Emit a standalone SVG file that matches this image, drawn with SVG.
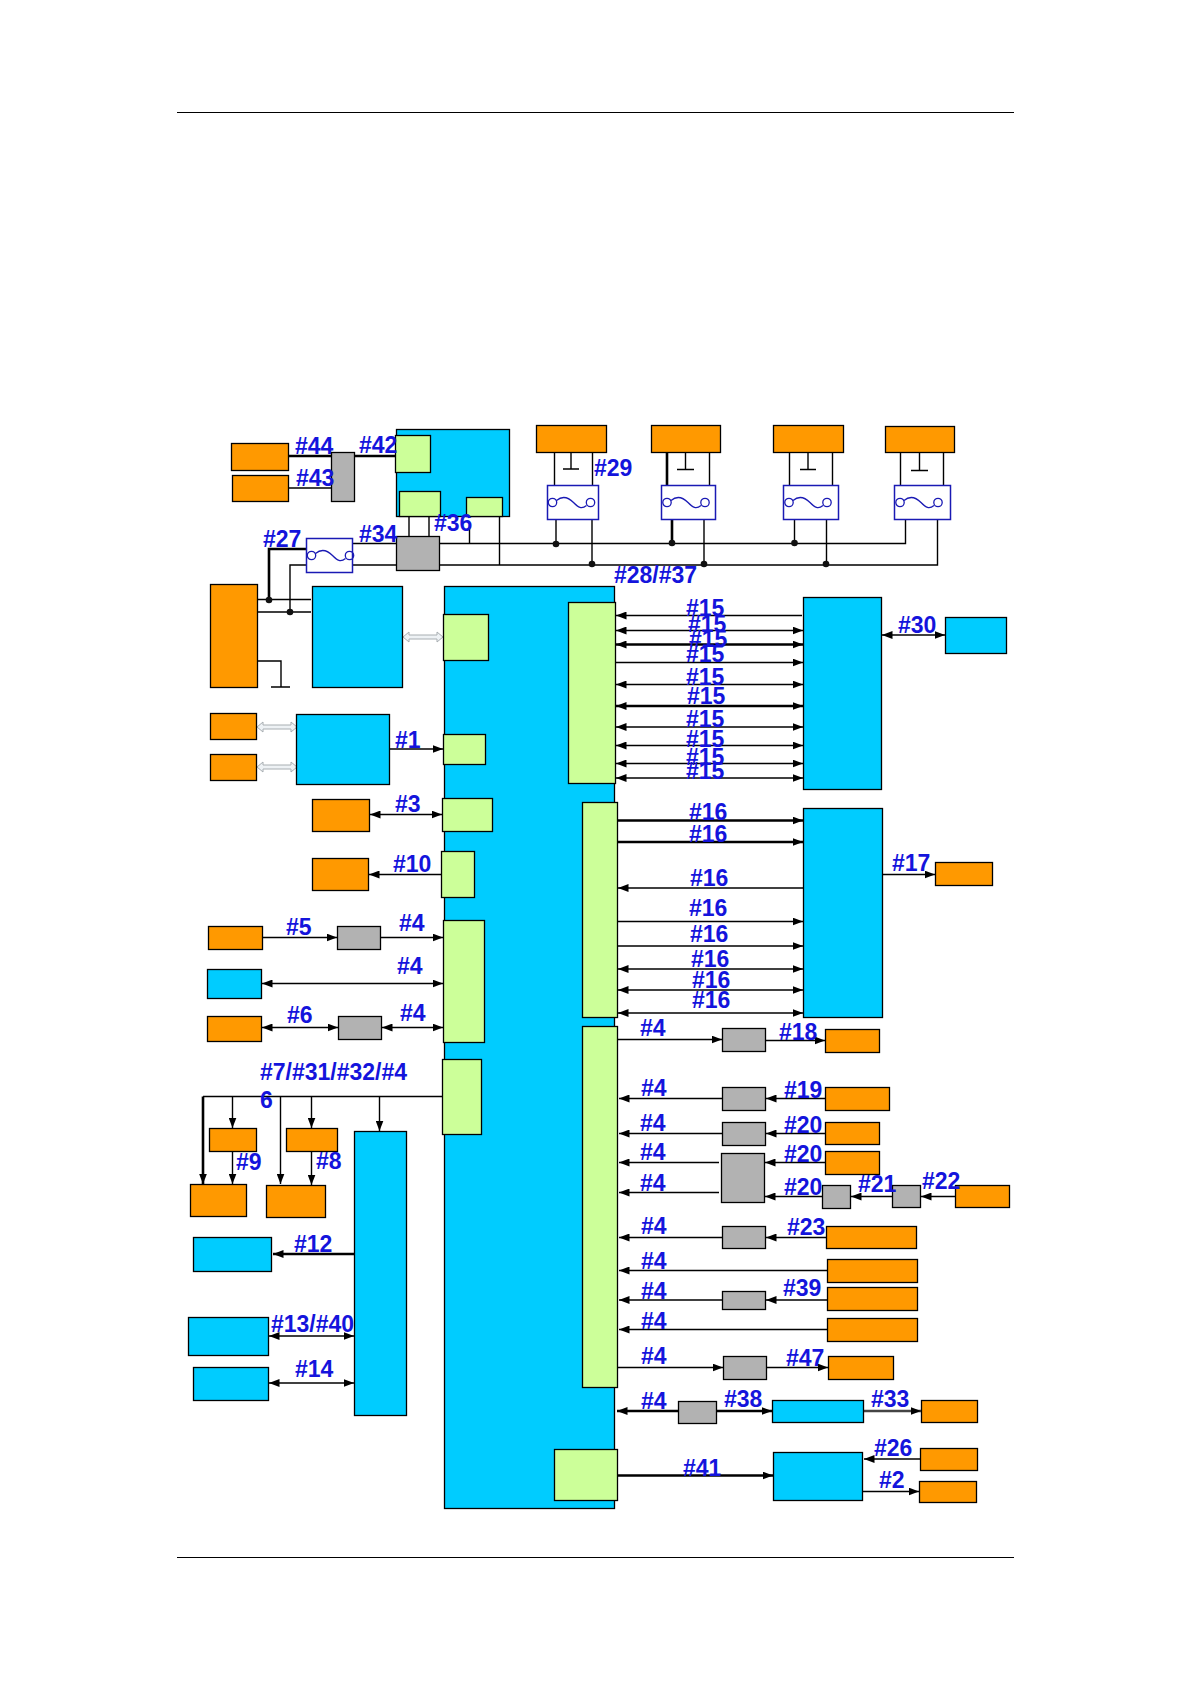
<svg xmlns="http://www.w3.org/2000/svg" width="1190" height="1684" viewBox="0 0 1190 1684">
<style>
rect{stroke:#000;stroke-width:1.3}
.o{fill:#f90}.c{fill:#0cf}.g{fill:#cf9}.n{fill:#b2b2b2}
.f{fill:#fff;stroke:#1a1ab4;stroke-width:1.5}
.w{fill:none;stroke:#1a1ab4;stroke-width:1.3}
#conn path{fill:none;stroke:#000;stroke-width:1.4}
#conn path.t{stroke-width:2.6}
#conn path.e{marker-end:url(#a)}
#conn path.s{marker-start:url(#a)}
#conn path.b{marker-start:url(#a);marker-end:url(#a)}
#conn circle{fill:#111}
.h{fill:#eef2f5;stroke:#a8aeb2;stroke-width:1}
text{font-family:"Liberation Sans",Arial,sans-serif;font-size:23px;font-weight:bold;fill:#1414dc}
</style>
<defs>
<marker id="a" markerUnits="userSpaceOnUse" markerWidth="11" markerHeight="8" refX="10.5" refY="4" orient="auto-start-reverse"><path d="M0 0L10.500 4L0 8z" fill="#000"/></marker>
<g id="wave"><circle cx="5" cy="17" r="4.2" fill="none"/><circle cx="43" cy="17" r="4.2" fill="none"/><path d="M9 15C15 10 21 12 26 17S34 24 39 20" fill="none"/></g>
<path id="ha" d="M0 0L6 -5V-2H34V-5L40 0L34 5V2H6V5z"/>
</defs>
<g id="page"><path d="M177 112.500H1014M177 1557.500H1014" fill="none" stroke="#000" stroke-width="1.2"/></g>
<g id="conn">
<path class="t" d="M288 456H332M354 456H396"/>
<path d="M288 488H332"/>
<path d="M409 516V537M429 516V537M499.500 516V565M469.500 525V543.500"/>
<path class="t" d="M269 600V549H307"/>
<path d="M290 612V565H307M352 543.500H397M352 565H397"/>
<path d="M439 543.500H905.500V519M439 565H937.500V519"/>
<path d="M257 599.500H311M257 612H311M257 661H281V687M271 687H290"/>
<circle cx="269" cy="600" r="3.300"/><circle cx="290" cy="612" r="3.300"/>
<path d="M554.500 452V486M592.500 452V486M571 452V469M563 469H579"/>
<path d="M556 519V544M592 519V564"/>
<path class="t" d="M667 452V486M672 519V543"/>
<path d="M709.500 452V486M685.500 452V469.500M677 469.500H694M704 519V564"/>
<path d="M789.500 452V486M832.500 452V486M808 452V469.500M800 469.500H816M794.500 519V543M826.500 519V564"/>
<path d="M900.500 452V486M943.500 452V486M919.500 452V470.500M911 470.500H928"/>
<circle cx="556" cy="544" r="3.300"/><circle cx="592" cy="564" r="3.300"/><circle cx="672" cy="543" r="3.300"/><circle cx="704" cy="564" r="3.300"/><circle cx="794.500" cy="543" r="3.300"/><circle cx="826" cy="564" r="3.300"/>
<path class="s" d="M616 615.500H802"/>
<path class="b" d="M616 630.500H803"/>
<path class="b t" d="M616 644.500H803"/>
<path class="e" d="M616 662.500H803"/>
<path class="b" d="M616 684.500H803"/>
<path class="b t" d="M616 706H803"/>
<path class="b" d="M616 727H803"/>
<path class="b" d="M616 745.500H803"/>
<path class="b" d="M616 763.500H803"/>
<path class="b" d="M616 778H803"/>
<path class="b" d="M882 635H945"/>
<path class="e t" d="M618 820.500H803"/>
<path class="e t" d="M618 842H803"/>
<path class="s" d="M618 888H803"/>
<path class="e" d="M618 921.500H803"/>
<path class="e" d="M618 946H803"/>
<path class="b" d="M618 969H803"/>
<path class="b" d="M618 990H803"/>
<path class="b" d="M618 1013H803"/>
<path class="e" d="M882 874.500H935"/>
<path class="e" d="M618 1039.500H722"/>
<path class="e" d="M765 1040.500H825"/>
<path class="s" d="M619 1098.500H722"/>
<path class="s" d="M766 1098.500H825"/>
<path class="s" d="M619 1133.500H722"/>
<path class="s" d="M766 1133.500H825"/>
<path class="s" d="M619 1162.500H719"/>
<path class="s" d="M765 1162.500H825"/>
<path class="s" d="M619 1192.500H719"/>
<path class="s" d="M765 1196.500H822"/>
<path class="s" d="M851 1196.500H892"/>
<path class="s" d="M921 1196.500H955"/>
<path class="s" d="M619 1237.500H722"/>
<path class="s" d="M766 1237.500H826"/>
<path class="s" d="M619 1270.500H827"/>
<path class="s" d="M619 1300H722"/>
<path class="s" d="M766 1300H827"/>
<path class="s" d="M619 1329.500H827"/>
<path class="e" d="M618 1367.500H723"/>
<path class="e" d="M766 1367.500H828"/>
<path class="s t" d="M617 1411H678"/>
<path class="e t" d="M716 1411H772"/>
<path class="e t" d="M864 1411H921" style="stroke:#444"/>
<path class="e t" d="M617 1475.500H773"/>
<path class="s" d="M864 1459H920"/>
<path class="e" d="M862 1491.500H919"/>
<path class="e" d="M390 749H443"/>
<path class="b" d="M370 814.500H442"/>
<path class="s" d="M369 874.500H441"/>
<path class="e" d="M262 937.500H337"/>
<path class="e" d="M380 937.500H443"/>
<path class="b" d="M262 983.500H443"/>
<path class="b" d="M262 1027.500H338"/>
<path class="b" d="M382 1027.500H443"/>
<path d="M203 1096.500H442"/>
<path class="e t" d="M203 1096.500V1184"/>
<path class="e" d="M232.500 1096.500V1128"/>
<path class="e" d="M280.500 1096.500V1184"/>
<path class="e" d="M311.500 1096.500V1128"/>
<path class="e" d="M379.500 1096.500V1131"/>
<path class="e" d="M232.500 1151V1184"/>
<path class="e" d="M311.500 1151V1185"/>
<path class="s t" d="M273 1254H354"/>
<path class="b" d="M269 1336H354"/>
<path class="b" d="M269 1383H354"/>
<use href="#ha" class="h" x="403" y="637"/>
<use href="#ha" class="h" x="257" y="727"/>
<use href="#ha" class="h" x="257" y="767"/>
</g>
<g id="n01"><rect class="o" x="231.500" y="443.500" width="57" height="27"/></g>
<g id="n02"><rect class="o" x="232.500" y="475.500" width="56" height="26"/></g>
<g id="n03"><rect class="n" x="331.500" y="452.500" width="23" height="49"/></g>
<g id="n04"><rect class="c" x="396.500" y="429.500" width="113" height="87"/></g>
<g id="n05"><rect class="g" x="395.500" y="435.500" width="35" height="37"/></g>
<g id="n06"><rect class="g" x="399.500" y="491.500" width="41" height="25"/></g>
<g id="n07"><rect class="g" x="466.500" y="497.500" width="36" height="19"/></g>
<g id="n08"><rect class="f" x="306.500" y="538.500" width="46" height="34"/><use href="#wave" class="w" x="306.500" y="538.500"/></g>
<g id="n09"><rect class="n" x="396.500" y="536.500" width="43" height="34"/></g>
<g id="n10"><rect class="o" x="210.500" y="584.500" width="47" height="103"/></g>
<g id="n11"><rect class="c" x="312.500" y="586.500" width="90" height="101"/></g>
<g id="n12"><rect class="o" x="536.500" y="425.500" width="70" height="27"/></g>
<g id="n13"><rect class="o" x="651.500" y="425.500" width="69" height="27"/></g>
<g id="n14"><rect class="o" x="773.500" y="425.500" width="70" height="27"/></g>
<g id="n15"><rect class="o" x="885.500" y="426.500" width="69" height="26"/></g>
<g id="n16"><rect class="f" x="547.500" y="485.500" width="51" height="34"/><use href="#wave" class="w" x="547.500" y="485.500"/></g>
<g id="n17"><rect class="f" x="661.500" y="485.500" width="54" height="34"/><use href="#wave" class="w" x="662" y="485.500"/></g>
<g id="n18"><rect class="f" x="783.500" y="485.500" width="55" height="34"/><use href="#wave" class="w" x="784" y="485.500"/></g>
<g id="n19"><rect class="f" x="894.500" y="485.500" width="56" height="34"/><use href="#wave" class="w" x="895" y="485.500"/></g>
<g id="main"><rect class="c" x="444.500" y="586.500" width="170" height="922"/></g>
<g id="n20"><rect class="g" x="443.500" y="614.500" width="45" height="46"/></g>
<g id="n21"><rect class="g" x="568.500" y="602.500" width="47" height="181"/></g>
<g id="n22"><rect class="c" x="803.500" y="597.500" width="78" height="192"/></g>
<g id="n23"><rect class="c" x="945.500" y="617.500" width="61" height="36"/></g>
<g id="n24"><rect class="g" x="582.500" y="802.500" width="35" height="215"/></g>
<g id="n25"><rect class="c" x="803.500" y="808.500" width="79" height="209"/></g>
<g id="n26"><rect class="o" x="935.500" y="862.500" width="57" height="23"/></g>
<g id="n27"><rect class="g" x="582.500" y="1026.500" width="35" height="361"/></g>
<g id="n28"><rect class="n" x="722.500" y="1028.500" width="43" height="23"/></g>
<g id="n29"><rect class="o" x="825.500" y="1029.500" width="54" height="23"/></g>
<g id="n30"><rect class="n" x="722.500" y="1087.500" width="43" height="23"/></g>
<g id="n31"><rect class="o" x="825.500" y="1087.500" width="64" height="23"/></g>
<g id="n32"><rect class="n" x="722.500" y="1122.500" width="43" height="23"/></g>
<g id="n33"><rect class="o" x="825.500" y="1122.500" width="54" height="22"/></g>
<g id="n34"><rect class="n" x="721.500" y="1153.500" width="43" height="49"/></g>
<g id="n35"><rect class="o" x="825.500" y="1151.500" width="54" height="23"/></g>
<g id="n36"><rect class="n" x="822.500" y="1185.500" width="28" height="23"/></g>
<g id="n37"><rect class="n" x="892.500" y="1185.500" width="28" height="22"/></g>
<g id="n38"><rect class="o" x="955.500" y="1185.500" width="54" height="22"/></g>
<g id="n39"><rect class="n" x="722.500" y="1226.500" width="43" height="22"/></g>
<g id="n40"><rect class="o" x="826.500" y="1226.500" width="90" height="22"/></g>
<g id="n41"><rect class="o" x="827.500" y="1259.500" width="90" height="23"/></g>
<g id="n42"><rect class="n" x="722.500" y="1291.500" width="43" height="18"/></g>
<g id="n43"><rect class="o" x="827.500" y="1287.500" width="90" height="23"/></g>
<g id="n44"><rect class="o" x="827.500" y="1318.500" width="90" height="23"/></g>
<g id="n45"><rect class="n" x="723.500" y="1356.500" width="43" height="23"/></g>
<g id="n46"><rect class="o" x="828.500" y="1356.500" width="65" height="23"/></g>
<g id="n47"><rect class="n" x="678.500" y="1401.500" width="38" height="22"/></g>
<g id="n48"><rect class="c" x="772.500" y="1400.500" width="91" height="22"/></g>
<g id="n49"><rect class="o" x="921.500" y="1400.500" width="56" height="22"/></g>
<g id="n50"><rect class="g" x="554.500" y="1449.500" width="63" height="51"/></g>
<g id="n51"><rect class="c" x="773.500" y="1452.500" width="89" height="48"/></g>
<g id="n52"><rect class="o" x="920.500" y="1448.500" width="57" height="22"/></g>
<g id="n53"><rect class="o" x="919.500" y="1481.500" width="57" height="21"/></g>
<g id="n54"><rect class="o" x="210.500" y="713.500" width="46" height="26"/></g>
<g id="n55"><rect class="o" x="210.500" y="754.500" width="46" height="26"/></g>
<g id="n56"><rect class="c" x="296.500" y="714.500" width="93" height="70"/></g>
<g id="n57"><rect class="g" x="443.500" y="734.500" width="42" height="30"/></g>
<g id="n58"><rect class="o" x="312.500" y="799.500" width="57" height="32"/></g>
<g id="n59"><rect class="g" x="442.500" y="798.500" width="50" height="33"/></g>
<g id="n60"><rect class="o" x="312.500" y="858.500" width="56" height="32"/></g>
<g id="n61"><rect class="g" x="441.500" y="851.500" width="33" height="46"/></g>
<g id="n62"><rect class="o" x="208.500" y="926.500" width="54" height="23"/></g>
<g id="n63"><rect class="n" x="337.500" y="926.500" width="43" height="23"/></g>
<g id="n64"><rect class="g" x="443.500" y="920.500" width="41" height="122"/></g>
<g id="n65"><rect class="c" x="207.500" y="969.500" width="54" height="29"/></g>
<g id="n66"><rect class="o" x="207.500" y="1016.500" width="54" height="25"/></g>
<g id="n67"><rect class="n" x="338.500" y="1016.500" width="43" height="23"/></g>
<g id="n68"><rect class="g" x="442.500" y="1059.500" width="39" height="75"/></g>
<g id="n69"><rect class="o" x="209.500" y="1128.500" width="47" height="23"/></g>
<g id="n70"><rect class="o" x="286.500" y="1128.500" width="51" height="23"/></g>
<g id="n71"><rect class="o" x="190.500" y="1184.500" width="56" height="32"/></g>
<g id="n72"><rect class="o" x="266.500" y="1185.500" width="59" height="32"/></g>
<g id="n73"><rect class="c" x="354.500" y="1131.500" width="52" height="284"/></g>
<g id="n74"><rect class="c" x="193.500" y="1237.500" width="78" height="34"/></g>
<g id="n75"><rect class="c" x="188.500" y="1317.500" width="80" height="38"/></g>
<g id="n76"><rect class="c" x="193.500" y="1367.500" width="75" height="33"/></g>
<g id="labels">
<text x="295" y="454">#44</text><text x="359" y="453">#42</text><text x="296" y="486">#43</text>
<text x="263" y="547">#27</text><text x="359" y="542">#34</text><text x="434" y="531">#36</text>
<text x="594" y="476">#29</text><text x="614" y="583">#28/#37</text>
<text x="686" y="616">#15</text><text x="688" y="632">#15</text><text x="689" y="647">#15</text><text x="686" y="662">#15</text><text x="686" y="685">#15</text><text x="687" y="704">#15</text><text x="686" y="727">#15</text><text x="686" y="747">#15</text><text x="686" y="765">#15</text><text x="686" y="779">#15</text>
<text x="898" y="633">#30</text><text x="892" y="871">#17</text>
<text x="689" y="820">#16</text><text x="689" y="842">#16</text><text x="690" y="886">#16</text><text x="689" y="916">#16</text><text x="690" y="942">#16</text><text x="691" y="967">#16</text><text x="692" y="988">#16</text><text x="692" y="1008">#16</text>
<text x="640" y="1036">#4</text><text x="779" y="1040">#18</text>
<text x="641" y="1096">#4</text><text x="784" y="1098">#19</text>
<text x="640" y="1131">#4</text><text x="784" y="1133">#20</text>
<text x="640" y="1160">#4</text><text x="784" y="1162">#20</text>
<text x="640" y="1191">#4</text><text x="784" y="1195">#20</text>
<text x="858" y="1192">#21</text><text x="922" y="1189">#22</text>
<text x="641" y="1234">#4</text><text x="787" y="1235">#23</text>
<text x="641" y="1269">#4</text><text x="641" y="1299">#4</text><text x="783" y="1296">#39</text>
<text x="641" y="1329">#4</text><text x="641" y="1364">#4</text><text x="786" y="1366">#47</text>
<text x="641" y="1409">#4</text><text x="724" y="1407">#38</text><text x="871" y="1407">#33</text>
<text x="683" y="1476">#41</text><text x="874" y="1456">#26</text><text x="879" y="1488">#2</text>
<text x="395" y="748">#1</text><text x="395" y="812">#3</text><text x="393" y="872">#10</text>
<text x="286" y="935">#5</text><text x="399" y="931">#4</text><text x="397" y="974">#4</text>
<text x="287" y="1023">#6</text><text x="400" y="1021">#4</text>
<text x="260" y="1080">#7/#31/#32/#4</text><text x="260" y="1108">6</text>
<text x="236" y="1170">#9</text><text x="316" y="1169">#8</text>
<text x="294" y="1252">#12</text><text x="271" y="1332">#13/#40</text><text x="295" y="1377">#14</text>
</g>
</svg>
